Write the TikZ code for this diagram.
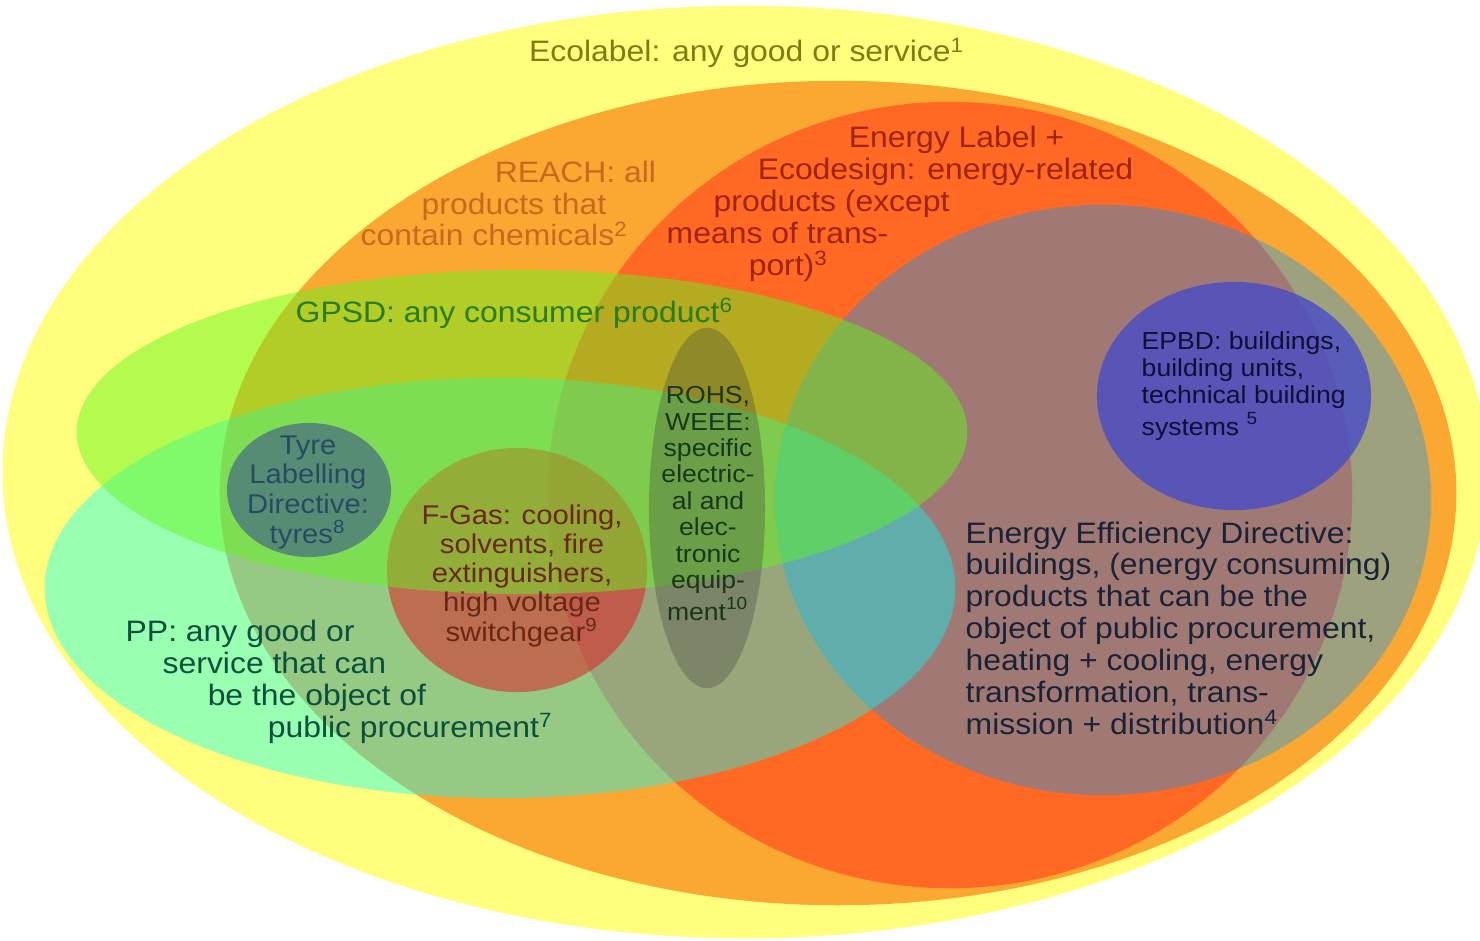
\documentclass[tikz,border=0pt]{standalone}
\usepackage{fontspec}
\setmainfont[FakeStretch=1.08]{Liberation Sans}
\usepackage{tikz}
\usetikzlibrary{shapes}

\definecolor{ecoyellow}{RGB}{255,255,125}
\definecolor{reachorange}{RGB}{250,168,50}
\definecolor{energyred}{RGB}{255,105,35}
\definecolor{eedblue}{RGB}{0,150,255}
\definecolor{ppcyan}{RGB}{0,255,255}
\definecolor{fgasred}{RGB}{230,20,30}
\definecolor{gpsdgreen}{RGB}{100,245,30}
\definecolor{tyreblue}{RGB}{50,60,150}
\definecolor{rohsgrey}{RGB}{60,60,60}
\definecolor{epbdblue}{RGB}{72,76,200}
\definecolor{ecotext}{RGB}{125,125,20}
\definecolor{reachtext}{RGB}{200,105,30}
\definecolor{energytext}{RGB}{160,35,15}
\definecolor{gpsdtext}{RGB}{40,125,20}
\definecolor{rohstext}{RGB}{25,55,25}
\definecolor{epbdtext}{RGB}{15,15,55}
\definecolor{eedtext}{RGB}{25,35,55}
\definecolor{tyretext}{RGB}{40,75,100}
\definecolor{fgastext}{RGB}{105,40,20}
\definecolor{pptext}{RGB}{10,80,60}

\tikzstyle{set}   = [ellipse, draw=none, inner sep=0pt]
\tikzstyle{big}   = [inner sep=0pt, font=\fontsize{8.4}{9.05}\selectfont]
\tikzstyle{mid}   = [inner sep=0pt, font=\fontsize{7.7}{8.4}\selectfont]
\tikzstyle{small} = [inner sep=0pt, font=\fontsize{7.0}{7.5}\selectfont]

\begin{document}
\begin{tikzpicture}[x=0.01cm, y=-0.01cm]

\useasboundingbox (0,0) rectangle (1480,940);

% sets
\node [set, fill=ecoyellow, minimum width=14.84cm, minimum height=9.32cm] at ( 745 , 472 ) (eco)    {};
\node [set, fill=reachorange, minimum width=12.36cm, minimum height=8.24cm] at ( 838 , 493 ) (reach)  {};
\node [set, fill=energyred, minimum width=8.04cm, minimum height=7.86cm] at ( 950 , 495 ) (energy) {};
\node [set, fill=eedblue, fill opacity=0.37, minimum width=6.56cm, minimum height=5.9cm] at ( 1103 , 500 ) (eed) {};
\node [set, fill=ppcyan, fill opacity=0.4, minimum width=9.1cm, minimum height=4.2cm] at ( 500 , 588 ) (pp) {};
\node [set, fill=fgasred, fill opacity=0.5, minimum width=2.6cm, minimum height=2.44cm] at ( 517 , 570 ) (fgas) {};
\node [set, fill=gpsdgreen, fill opacity=0.48, minimum width=8.9cm, minimum height=3.24cm] at ( 522 , 432 ) (gpsd) {};
\node [set, fill=tyreblue, fill opacity=0.5, minimum width=1.64cm, minimum height=1.34cm] at ( 309 , 490 ) (tyre) {};
\node [set, fill=rohsgrey, fill opacity=0.3, minimum width=1.16cm, minimum height=3.6cm] at ( 707 , 508 ) (rohs) {};
\node [set, fill=epbdblue, fill opacity=0.8, minimum width=2.74cm, minimum height=2.28cm] at ( 1234 , 396 ) (epbd) {};

% labels (anchored at the baseline of the last line)
\node [big, anchor=base, text=ecotext] at ( 747 , 62 ) (ecolabel) {Ecolabel: any good or service\textsuperscript{1}};
\node [big, anchor=base west, align=left, text=reachtext] at ( 360 , 246 ) (reachlabel)
  {\hspace*{1.34cm}REACH: all\\ \hspace*{0.61cm}products that\\ contain chemicals\textsuperscript{2}};
\node [big, anchor=base west, align=left, text=energytext] at ( 666 , 275 ) (energylabel)
  {\hspace*{1.82cm}Energy Label +\\ \hspace*{0.91cm}Ecodesign: energy-related\\ \hspace*{0.47cm}products (except\\ means of trans-\\ \hspace*{0.82cm}port)\textsuperscript{3}};
\node [big, anchor=base west, text=gpsdtext] at ( 295 , 322 ) (gpsdlabel) {GPSD: any consumer product\textsuperscript{6}};
\node [small, anchor=base, align=center, text=rohstext] at ( 708 , 620 ) (rohslabel)
  {ROHS,\\ WEEE:\\ specific\\ electric-\\ al and\\ elec-\\ tronic\\ equip-\\ ment\textsuperscript{10}};
\node [small, anchor=base west, align=left, text=epbdtext, font=\fontsize{7.0}{7.7}\selectfont] at ( 1141 , 435 ) (epbdlabel)
  {EPBD: buildings,\\ building units,\\ technical building\\ systems \textsuperscript{5}};
\node [big, anchor=base west, align=left, text=eedtext] at ( 965 , 734 ) (eedlabel)
  {Energy Efficiency Directive:\\ buildings, (energy consuming)\\ products that can be the\\ object of public procurement,\\ heating + cooling, energy\\ transformation, trans-\\ mission + distribution\textsuperscript{4}};
\node [mid, anchor=base, align=center, text=tyretext] at ( 308 , 543 ) (tyrelabel)
  {Tyre\\ Labelling\\ Directive:\\ tyres\textsuperscript{8}};
\node [mid, anchor=base, align=center, text=fgastext, font=\fontsize{7.7}{8.3}\selectfont] at ( 522 , 641 ) (fgaslabel)
  {F-Gas: cooling,\\ solvents, fire\\ extinguishers,\\ high voltage\\ switchgear\textsuperscript{9}};
\node [big, anchor=base west, align=left, text=pptext] at ( 125 , 737 ) (pplabel)
  {PP: any good or\\ \hspace*{0.37cm}service that can\\ \hspace*{0.82cm}be the object of\\ \hspace*{1.42cm}public procurement\textsuperscript{7}};

\end{tikzpicture}
\end{document}
